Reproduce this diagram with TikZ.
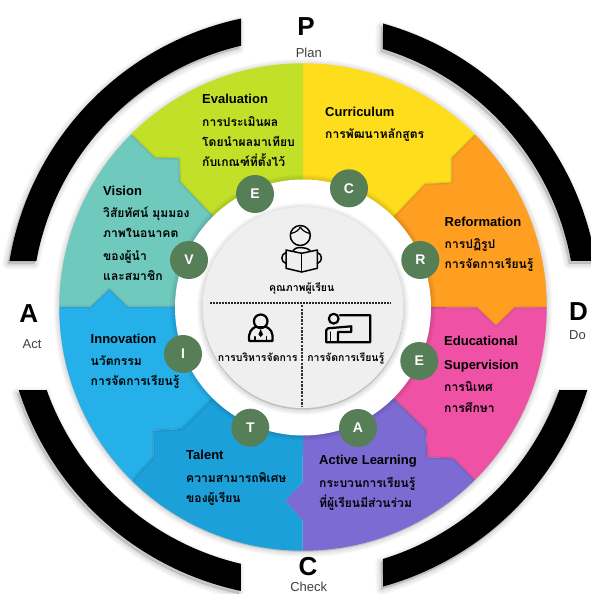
\documentclass[tikz,border=0pt]{standalone}
\usepackage{fontspec}
\setmainfont{Liberation Sans}
\newfontfamily\thaifont[Script=Thai]{Loma}
\definecolor{cEval}{HTML}{C2E027}
\definecolor{cCurr}{HTML}{FEDD1D}
\definecolor{cRef}{HTML}{FF9F22}
\definecolor{cEdu}{HTML}{EF52A5}
\definecolor{cAct}{HTML}{7B6BD2}
\definecolor{cTal}{HTML}{1CA0DA}
\definecolor{cInn}{HTML}{25B0EA}
\definecolor{cVis}{HTML}{6FC9BD}
\definecolor{cBadge}{HTML}{567F58}
\definecolor{cCore}{HTML}{EFEFEF}
\definecolor{cSub}{HTML}{404040}
\tikzset{
  badge/.style={circle,fill=cBadge,minimum size=38pt,inner sep=0pt,text=white,font=\fontsize{14}{14}\selectfont\bfseries},
  head/.style={anchor=base west,inner sep=0pt,font=\fontsize{13}{15}\selectfont\bfseries},
  thaitxt/.style={anchor=base west,inner sep=0pt,font=\fontsize{12.1}{15}\selectfont\thaifont\bfseries},
  coretxt/.style={anchor=base,inner sep=0pt,font=\fontsize{10.5}{12}\selectfont\thaifont\bfseries},
  phase/.style={anchor=base,inner sep=0pt,font=\fontsize{26}{26}\selectfont\bfseries},
  phasesub/.style={anchor=base,inner sep=0pt,text=cSub,font=\fontsize{13}{13}\selectfont},
  icon/.style={draw=black,line width=1.5pt,line join=round,line cap=round},
  boldicon/.style={icon,line width=2.2pt},
  seam/.style={draw=black,line join=round}
}
\newcommand\softshadow[3]{\foreach \w in {1,3,...,11}{\draw[black,opacity=.025,line width=\w pt,fill=black,fill opacity=.025,line join=round,shift={(#1,#2)}] #3;}}
\newcommand\seamline[1]{\draw[seam,opacity=.04,line width=3.5pt] #1; \draw[seam,opacity=.05,line width=1.5pt] #1;}
\def\pathTL{([shift={(303,-309.5)}]102.03:297.5pt) arc[start angle=102.03,end angle=170.62,radius=297.5pt] -- ([shift={(303,-309.5)}]169.69:271pt) arc[start angle=169.69,end angle=103.22,radius=271pt] -- cycle}
\def\pathTR{([shift={(303,-309.3)}]74.36:296.8pt) arc[start angle=74.36,end angle=9.37,radius=296.8pt] -- ([shift={(303,-309.3)}]10.22:272.3pt) arc[start angle=10.22,end angle=72.92,radius=272.3pt] -- cycle}
\def\pathBR{([shift={(303,-299)}]-17.75:298.5pt) arc[start angle=-17.75,end angle=-74.45,radius=298.5pt] -- ([shift={(303,-299)}]-72.9:272pt) arc[start angle=-72.9,end angle=-19.55,radius=272pt] -- cycle}
\def\pathBL{([shift={(303,-299)}]-101.99:298.5pt) arc[start angle=-101.99,end angle=-162.25,radius=298.5pt] -- ([shift={(303,-299)}]-160.45:272pt) arc[start angle=-160.45,end angle=-103.18,radius=272pt] -- cycle}
\begin{document}
\begin{tikzpicture}[x=1pt,y=1pt]
\useasboundingbox (0,0) rectangle (590,-594);
\fill[white] (0,0) rectangle (590,-594);
% black arcs
\softshadow{-2}{-3}{\pathTL}
\softshadow{-2}{-3}{\pathTR}
\softshadow{-2}{-3}{\pathBR}
\softshadow{-2}{-3}{\pathBL}
\fill[black] \pathTL;
\fill[black] \pathTR;
\fill[black] \pathBR;
\fill[black] \pathBL;
% colour disc
\softshadow{0}{-1}{(303,-307) circle[radius=243.7pt]}
\begin{scope}
\clip (303,-307) circle[radius=243.7pt];
% Evaluation
\fill[cEval] (303,-307) -- (303,-40) -- (105,-40) -- (105,-108) -- (131.7,-135) -- (155,-157.7) -- (179.3,-158.3) -- (180,-181.7) -- (212.7,-216) -- cycle;
% Curriculum
\fill[cCurr] (303,-307) -- (303,-40) -- (500,-40) -- (500,-110) -- (475,-135) -- (451.7,-158) -- (451.7,-182.7) -- (425,-184) -- (394,-216.7) -- cycle;
% Reformation
\fill[cRef] (303,-307) -- (394,-216.7) -- (425,-184) -- (451.7,-182.7) -- (451.7,-158) -- (475,-135) -- (500,-110) -- (570,-110) -- (570,-307.3) -- (515,-307.3) -- (496,-325.7) -- (476.7,-307.3) -- cycle;
% Educational
\fill[cEdu] (303,-307) -- (476.7,-307.3) -- (496,-325.7) -- (515,-307.3) -- (570,-307.3) -- (570,-505) -- (500,-505) -- (474.3,-479.7) -- (453.3,-458.3) -- (427.3,-457.3) -- (426,-430) -- (394,-399) -- cycle;
% Active
\fill[cAct] (303,-307) -- (394,-399) -- (426,-430) -- (427.3,-457.3) -- (453.3,-458.3) -- (474.3,-479.7) -- (500,-505) -- (500,-570) -- (302.7,-570) -- (302.7,-520.7) -- (285,-500.7) -- (302.7,-482.3) -- cycle;
% Talent
\fill[cTal] (303,-307) -- (302.7,-482.3) -- (285,-500.7) -- (302.7,-520.7) -- (302.7,-570) -- (110,-570) -- (110,-503) -- (133.3,-479) -- (153.3,-457.3) -- (153.3,-430.7) -- (181.7,-429) -- (211.7,-399) -- cycle;
% Innovation
\fill[cInn] (303,-307) -- (211.7,-399) -- (181.7,-429) -- (153.3,-430.7) -- (153.3,-457.3) -- (133.3,-479) -- (110,-503) -- (40,-503) -- (40,-306.7) -- (90.7,-306.7) -- (109.3,-289) -- (128,-306.7) -- cycle;
% Vision
\fill[cVis] (303,-307) -- (128,-306.7) -- (109.3,-289) -- (90.7,-306.7) -- (40,-306.7) -- (40,-108) -- (105,-108) -- (131.7,-135) -- (155,-157.7) -- (179.3,-158.3) -- (180,-181.7) -- (212.7,-216) -- cycle;
% seams
\seamline{(131.7,-135) -- (155,-157.7) -- (179.3,-158.3) -- (180,-181.7) -- (212.7,-216)}
\seamline{(475,-135) -- (451.7,-158) -- (451.7,-182.7) -- (425,-184) -- (394,-216.7)}
\seamline{(431,-307.3) -- (476.7,-307.3) -- (496,-325.7) -- (515,-307.3) -- (547,-307.3)}
\seamline{(474.3,-479.7) -- (453.3,-458.3) -- (427.3,-457.3) -- (426,-430) -- (394,-399)}
\seamline{(133.3,-479) -- (153.3,-457.3) -- (153.3,-430.7) -- (181.7,-429) -- (211.7,-399)}
\seamline{(60,-306.7) -- (90.7,-306.7) -- (109.3,-289) -- (128,-306.7) -- (176,-306.7)}
\end{scope}
% centre
\softshadow{0}{0}{(303,-307.5) circle[radius=127.5pt]}
\fill[white] (303,-307.5) circle[radius=128pt];
\softshadow{0}{-1.5}{(303,-307.5) circle[radius=100.5pt]}
\fill[cCore] (303,-307.5) circle[radius=100.5pt];
\coordinate (hl) at (210,-302.7);
\coordinate (hr) at (391,-302.7);
\coordinate (vt) at (302.3,-305);
\coordinate (vb) at (302.3,-407);
\draw[line width=1.8pt,dash pattern=on 1.7pt off 1.3pt,black!85] (hl) -- (hr);
\draw[line width=2pt,dash pattern=on 2.4pt off 1.2pt,black!80] (vt) -- (vb);
% reader icon
\draw[icon] (300.3,-235.5) circle[radius=10pt];
\draw[icon,line width=1.2pt] (290.7,-233.5) .. controls (296,-232.5) and (299,-230) .. (300.3,-227) .. controls (302,-230) and (305,-232.5) .. (310,-233.5);
\draw[icon] (286,-250) -- (301.7,-253.3) -- (317.3,-250) -- (317.3,-268.3) -- (301.7,-272) -- (286,-268.3) -- cycle;
\draw[icon] (301.7,-253.3) -- (301.7,-272);
\draw[icon] (293,-250.5) .. controls (295,-246.5) and (306,-246.5) .. (310,-250.5);
\draw[icon] (286,-252.5) .. controls (280.5,-254) and (280.5,-262) .. (286,-263.5);
\draw[icon] (317.3,-252.5) .. controls (322.8,-254) and (322.8,-262) .. (317.3,-263.5);
% manager icon
\draw[boldicon] (260.7,-321.3) circle[radius=6.8pt];
\draw[boldicon] (249.2,-341) .. controls (248,-332) and (252,-328.5) .. (255,-327.2) (266.5,-327.2) .. controls (270,-328.5) and (273.6,-332) .. (272.4,-341) -- (249.2,-341);
\draw[boldicon] (255,-327.2) -- (266.5,-327.2);
\draw[icon] (255,-336.7) -- (255,-341) (266.7,-336.7) -- (266.7,-341);
\fill[black] (260.7,-329) -- (263,-334.5) -- (260.7,-337) -- (258.4,-334.5) -- cycle;
% teacher icon
\draw[boldicon] (333.7,-318.7) circle[radius=4.9pt];
\draw[boldicon] (340,-315.3) -- (370.3,-315.3) -- (370.3,-342.3) -- (326.3,-342.3) -- (326.3,-330) .. controls (326.3,-329) and (327,-328.3) .. (328,-328.3) -- (351.3,-326.3) -- (351.3,-332) -- (338,-332) -- (338,-342.3);
\draw[icon] (330.7,-332) -- (330.7,-342.3);
% core labels
\node[coretxt] (q1) at (301.7,-291.7) {คุณภาพผู้เรียน};
\node[coretxt] (q2) at (257.7,-361.7) {การบริหารจัดการ};
\node[coretxt] (q3) at (345.8,-361) {การจัดการเรียนรู้};
% badges
\node[badge] (bE1) at (255,-194) {E};
\node[badge] (bC) at (349,-188.3) {C};
\node[badge] (bR) at (420.3,-260) {R};
\node[badge] (bE2) at (419.3,-361) {E};
\node[badge] (bA) at (358,-428) {A};
\node[badge] (bT) at (250.3,-427.7) {T};
\node[badge] (bI) at (183,-354) {I};
\node[badge] (bV) at (189,-260) {V};
% section texts
\node[head] (t1) at (202,-103) {Evaluation};
\node[thaitxt] (t1a) at (202,-126) {การประเมินผล};
\node[thaitxt] (t1b) at (202,-146) {โดยนำผลมาเทียบ};
\node[thaitxt] (t1c) at (202,-166) {กับเกณฑ์ที่ตั้งไว้};
\node[head] (t2) at (325,-116) {Curriculum};
\node[thaitxt] (t2a) at (325,-138) {การพัฒนาหลักสูตร};
\node[head] (t3) at (444.5,-226) {Reformation};
\node[thaitxt] (t3a) at (444.5,-248) {การปฏิรูป};
\node[thaitxt] (t3b) at (444.5,-268) {การจัดการเรียนรู้};
\node[head] (t4) at (444,-345) {Educational};
\node[head] (t4x) at (444,-369.5) {Supervision};
\node[thaitxt] (t4a) at (444,-391) {การนิเทศ};
\node[thaitxt] (t4b) at (444,-412) {การศึกษา};
\node[head] (t5) at (319,-464) {Active Learning};
\node[thaitxt] (t5a) at (319,-487) {กระบวนการเรียนรู้};
\node[thaitxt] (t5b) at (319,-507) {ที่ผู้เรียนมีส่วนร่วม};
\node[head] (t6) at (186,-459.7) {Talent};
\node[thaitxt] (t6a) at (186,-482) {ความสามารถพิเศษ};
\node[thaitxt] (t6b) at (186,-502) {ของผู้เรียน};
\node[head] (t7) at (90.5,-343) {Innovation};
\node[thaitxt] (t7a) at (90.5,-365) {นวัตกรรม};
\node[thaitxt] (t7b) at (90.5,-385.7) {การจัดการเรียนรู้};
\node[head] (t8) at (103,-195) {Vision};
\node[thaitxt] (t8a) at (103,-217) {วิสัยทัศน์ มุมมอง};
\node[thaitxt] (t8b) at (103,-237.7) {ภาพในอนาคต};
\node[thaitxt] (t8c) at (103,-260) {ของผู้นำ};
\node[thaitxt] (t8d) at (103,-280) {และสมาชิก};
% PDCA
\node[phase] (pP) at (306,-35.7) {P};
\node[phasesub] (sP) at (308.8,-57.3) {Plan};
\node[phase] (pA) at (28.7,-322.3) {A};
\node[phasesub] (sA) at (32,-348) {Act};
\node[phase,anchor=base west] (pD) at (569,-320) {D};
\node[phasesub,anchor=base west] (sD) at (569,-339) {Do};
\node[phase] (pC) at (308,-575.7) {C};
\node[phasesub] (sC) at (308.7,-591.5) {Check};
\end{tikzpicture}
\end{document}
